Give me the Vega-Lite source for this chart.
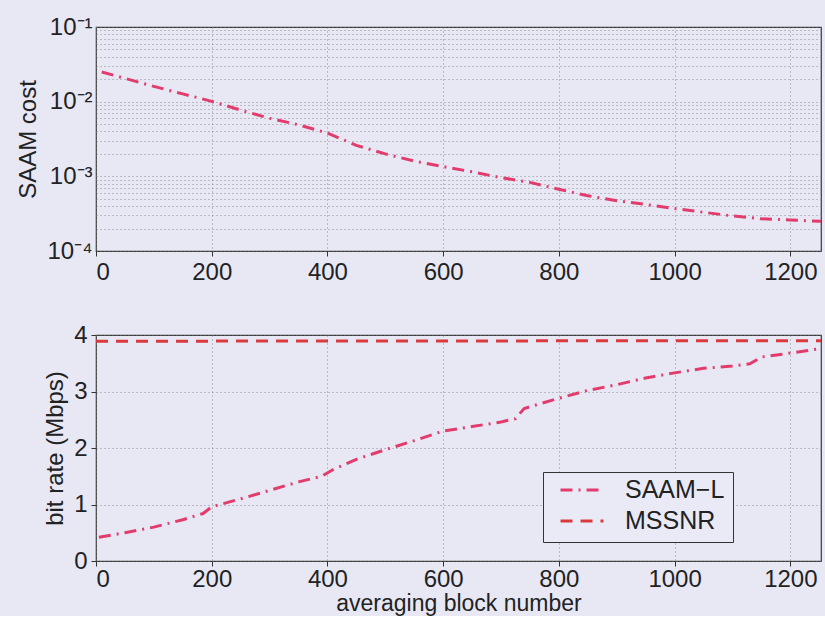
{
  "$schema": "https://vega.github.io/schema/vega-lite/v6.json",
  "background": "#e8e8f5",
  "padding": {"left": 16, "top": 14, "right": 0, "bottom": 0},
  "bounds": "flush",
  "spacing": 84,
  "config": {
    "font": "Liberation Sans",
    "view": {"stroke": "#3a3a3a", "strokeWidth": 1.2, "fill": "#e8e8f5"},
    "axis": {
      "labelFont": "Liberation Sans",
      "labelFontSize": 24,
      "labelColor": "#222222",
      "titleFont": "Liberation Sans",
      "titleFontSize": 24,
      "titleFontWeight": "normal",
      "titleColor": "#222222",
      "domain": false,
      "tickColor": "#333333",
      "tickSize": 5,
      "grid": true,
      "gridColor": "#777777",
      "gridDash": [1, 3],
      "gridOpacity": 0.8,
      "labelPadding": 4,
      "format": "d"
    },
    "legend": {
      "labelFont": "Liberation Sans",
      "labelFontSize": 25,
      "labelColor": "#222222"
    }
  },
  "datasets": {
    "cost": [
      {"block": 10, "cost": 0.025},
      {"block": 50, "cost": 0.0205},
      {"block": 100, "cost": 0.016},
      {"block": 150, "cost": 0.0127},
      {"block": 200, "cost": 0.0101},
      {"block": 250, "cost": 0.0077},
      {"block": 300, "cost": 0.006},
      {"block": 350, "cost": 0.0049},
      {"block": 400, "cost": 0.0038},
      {"block": 450, "cost": 0.0026},
      {"block": 500, "cost": 0.002},
      {"block": 550, "cost": 0.0016},
      {"block": 600, "cost": 0.00135},
      {"block": 650, "cost": 0.00115},
      {"block": 700, "cost": 0.00096},
      {"block": 750, "cost": 0.00083},
      {"block": 800, "cost": 0.00067},
      {"block": 850, "cost": 0.00055},
      {"block": 900, "cost": 0.00047},
      {"block": 950, "cost": 0.00042},
      {"block": 1000, "cost": 0.00037},
      {"block": 1050, "cost": 0.00033},
      {"block": 1100, "cost": 0.000295},
      {"block": 1150, "cost": 0.00027},
      {"block": 1200, "cost": 0.00026},
      {"block": 1253, "cost": 0.00025}
    ],
    "rate": [
      {"block": 5, "rate": 0.42, "method": "SAAM−L"},
      {"block": 50, "rate": 0.5, "method": "SAAM−L"},
      {"block": 100, "rate": 0.6, "method": "SAAM−L"},
      {"block": 150, "rate": 0.73, "method": "SAAM−L"},
      {"block": 185, "rate": 0.84, "method": "SAAM−L"},
      {"block": 200, "rate": 0.96, "method": "SAAM−L"},
      {"block": 250, "rate": 1.1, "method": "SAAM−L"},
      {"block": 300, "rate": 1.25, "method": "SAAM−L"},
      {"block": 350, "rate": 1.4, "method": "SAAM−L"},
      {"block": 390, "rate": 1.5, "method": "SAAM−L"},
      {"block": 410, "rate": 1.62, "method": "SAAM−L"},
      {"block": 450, "rate": 1.8, "method": "SAAM−L"},
      {"block": 500, "rate": 1.97, "method": "SAAM−L"},
      {"block": 550, "rate": 2.13, "method": "SAAM−L"},
      {"block": 600, "rate": 2.3, "method": "SAAM−L"},
      {"block": 650, "rate": 2.38, "method": "SAAM−L"},
      {"block": 700, "rate": 2.46, "method": "SAAM−L"},
      {"block": 725, "rate": 2.52, "method": "SAAM−L"},
      {"block": 740, "rate": 2.7, "method": "SAAM−L"},
      {"block": 800, "rate": 2.88, "method": "SAAM−L"},
      {"block": 850, "rate": 3.02, "method": "SAAM−L"},
      {"block": 900, "rate": 3.12, "method": "SAAM−L"},
      {"block": 950, "rate": 3.24, "method": "SAAM−L"},
      {"block": 1000, "rate": 3.33, "method": "SAAM−L"},
      {"block": 1050, "rate": 3.41, "method": "SAAM−L"},
      {"block": 1100, "rate": 3.45, "method": "SAAM−L"},
      {"block": 1130, "rate": 3.49, "method": "SAAM−L"},
      {"block": 1150, "rate": 3.61, "method": "SAAM−L"},
      {"block": 1200, "rate": 3.68, "method": "SAAM−L"},
      {"block": 1253, "rate": 3.76, "method": "SAAM−L"},
      {"block": 0, "rate": 3.89, "method": "MSSNR"},
      {"block": 1253, "rate": 3.9, "method": "MSSNR"}
    ]
  },
  "vconcat": [
    {
      "width": 725,
      "height": 224,
      "data": {"name": "cost"},
      "mark": {"type": "line", "color": "#e23c6c", "strokeWidth": 3, "strokeDash": [12, 6, 2, 6]},
      "encoding": {
        "x": {
          "field": "block", "type": "quantitative",
          "scale": {"domain": [0, 1253], "nice": false, "zero": false},
          "axis": {"values": [0, 200, 400, 600, 800, 1000, 1200], "title": null}
        },
        "y": {
          "field": "cost", "type": "quantitative",
          "scale": {"type": "log", "domain": [0.0001, 0.1], "nice": false},
          "axis": {
            "title": "SAAM cost",
            "titlePadding": 6,
            "values": [0.0001, 0.0002, 0.0003, 0.0004, 0.0005, 0.0006, 0.0007, 0.0008, 0.0009, 0.001, 0.002, 0.003, 0.004, 0.005, 0.006, 0.007, 0.008, 0.009, 0.01, 0.02, 0.03, 0.04, 0.05, 0.06, 0.07, 0.08, 0.09, 0.1],
            "labelExpr": "datum.value == 0.1 ? '10⁻¹' : datum.value == 0.01 ? '10⁻²' : datum.value == 0.001 ? '10⁻³' : datum.value == 0.0001 ? '10⁻⁴' : ''",
            "tickSize": 0,
            "labelOverlap": false
          }
        }
      }
    },
    {
      "width": 725,
      "height": 226,
      "data": {"name": "rate"},
      "mark": {"type": "line", "strokeWidth": 3},
      "encoding": {
        "x": {
          "field": "block", "type": "quantitative",
          "scale": {"domain": [0, 1253], "nice": false, "zero": false},
          "axis": {"values": [0, 200, 400, 600, 800, 1000, 1200], "title": "averaging block number", "titleFontSize": 23, "titlePadding": 1, "labelPadding": 1}
        },
        "y": {
          "field": "rate", "type": "quantitative",
          "scale": {"domain": [0, 4], "nice": false},
          "axis": {"values": [0, 1, 2, 3, 4], "title": "bit rate (Mbps)", "titlePadding": 6}
        },
        "color": {
          "field": "method", "type": "nominal",
          "scale": {"domain": ["SAAM−L", "MSSNR"], "range": ["#e23c6c", "#d93a3e"]},
          "legend": {
            "title": null,
            "orient": "none",
            "legendX": 447,
            "legendY": 445,
            "symbolType": "stroke",
            "symbolSize": 1849,
            "symbolStrokeWidth": 3,
            "symbolOffset": 8,
            "clipHeight": 20,
            "strokeColor": "#333333",
            "fillColor": "#eaeaf7",
            "padding": 8,
            "rowPadding": 6,
            "labelOffset": 20
          }
        },
        "strokeDash": {
          "field": "method", "type": "nominal",
          "scale": {"domain": ["SAAM−L", "MSSNR"], "range": [[12, 6, 2, 6], [12, 8]]},
          "legend": {
            "title": null,
            "orient": "none",
            "legendX": 447,
            "legendY": 445,
            "symbolType": "stroke",
            "symbolSize": 1849,
            "symbolStrokeWidth": 3,
            "symbolOffset": 8,
            "clipHeight": 20,
            "strokeColor": "#333333",
            "fillColor": "#eaeaf7",
            "padding": 8,
            "rowPadding": 6,
            "labelOffset": 20
          }
        }
      }
    }
  ]
}
